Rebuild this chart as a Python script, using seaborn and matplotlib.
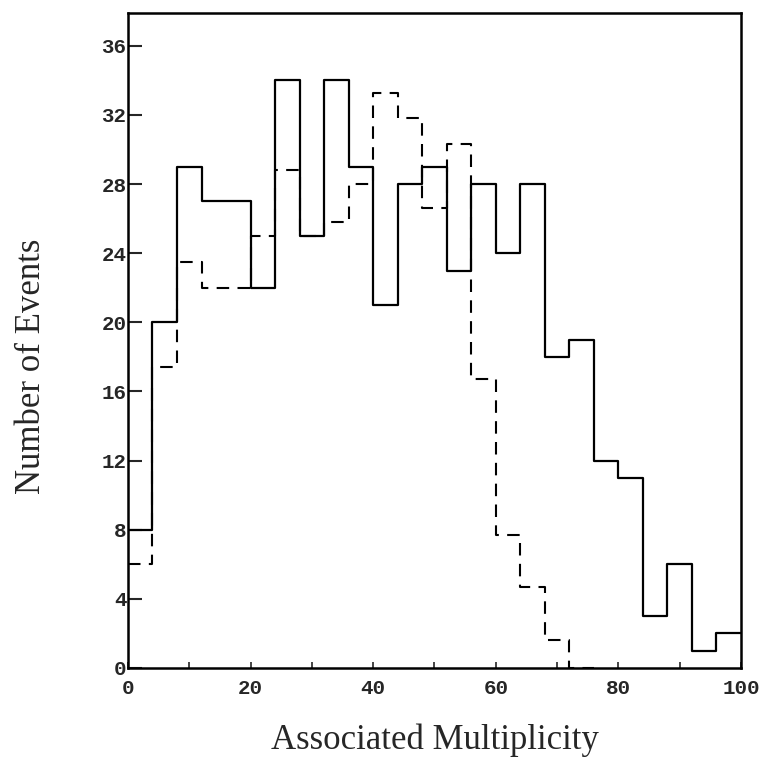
import numpy as np
import pandas as pd
import matplotlib
matplotlib.use("Agg")
import matplotlib.pyplot as plt
from matplotlib.font_manager import FontProperties
import seaborn as sns

# bin edges of the multiplicity histogram (width 4)
bin_edges = list(range(0, 104, 4))
bin_centers = [e + 2 for e in bin_edges[:-1]]

# solid histogram counts
solid_counts = [8, 20, 29, 27, 27, 22, 34, 25, 34, 29, 21, 28, 29,
                23, 28, 24, 28, 18, 19, 12, 11, 3, 6, 1, 2]
# dashed histogram counts (empty from 72 on)
dashed_edges = list(range(0, 80, 4))
dashed_counts = [6, 17.4, 23.5, 22, 22, 25, 28.8, 25, 25.8, 28, 33.3, 31.8, 26.6,
                 30.3, 16.7, 7.7, 4.7, 1.6, 0]

y_ticks = list(range(0, 40, 4))
x_ticks = [0, 20, 40, 60, 80, 100]

solid_df = pd.DataFrame({"mult": bin_centers, "count": solid_counts})
dashed_df = pd.DataFrame({"mult": [e + 2 for e in dashed_edges[:-1]], "count": dashed_counts})

sns.set_style("ticks")
fig = plt.figure(figsize=(7.69, 7.57), dpi=100)
ax = fig.add_axes([0.1664, 0.1176, 0.7972, 0.8652])

sns.histplot(data=dashed_df, x="mult", weights="count", bins=dashed_edges, element="step",
             fill=False, color="black", linewidth=1.5, linestyle=(0, (6, 4)), ax=ax)
sns.histplot(data=solid_df, x="mult", weights="count", bins=bin_edges, element="step",
             fill=False, color="black", linewidth=1.6, ax=ax)

ax.set_xlim(0, 100)
ax.set_ylim(0, 37.9)
ax.set_yticks(y_ticks)
ax.set_yticklabels([str(t) for t in y_ticks])
ax.set_xticks(x_ticks)
ax.set_xticklabels([str(t) for t in x_ticks])
ax.set_xticks(list(range(10, 100, 20)), minor=True)

mono = FontProperties(family="Liberation Mono", weight="bold", size=15)
for lab in ax.get_yticklabels() + ax.get_xticklabels():
    lab.set_fontproperties(mono)

ax.tick_params(axis="y", direction="in", length=10, width=1.5, pad=1)
ax.tick_params(axis="x", which="major", direction="in", length=4, width=1.2, pad=8)
ax.tick_params(axis="x", which="minor", direction="in", length=4, width=1.2)
for s in ax.spines.values():
    s.set_linewidth(1.8)
    s.set_color("black")

ax.set_xlabel("Associated Multiplicity", fontfamily="Liberation Serif", fontsize=25, labelpad=18)
ax.set_ylabel("Number of Events", fontfamily="Liberation Serif", fontsize=25)
ax.yaxis.set_label_coords(-0.13, 0.46)

fig.savefig("out.png", dpi=100)
